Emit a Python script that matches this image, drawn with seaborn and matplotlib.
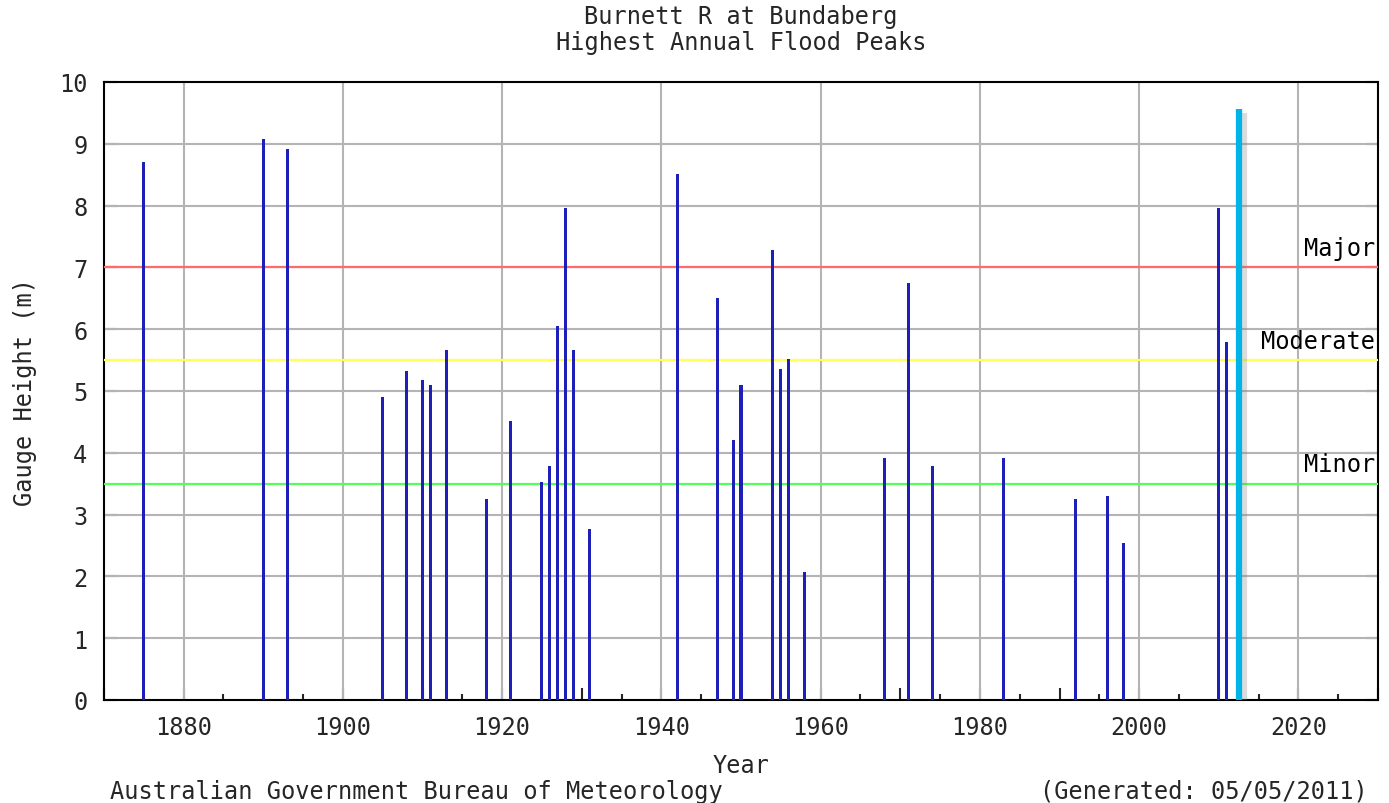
import matplotlib
matplotlib.use("Agg")
import matplotlib.pyplot as plt
import matplotlib.patheffects as pe
from matplotlib.ticker import MultipleLocator, FuncFormatter
import seaborn as sns
import pandas as pd

# ---- data ----
years = [1875, 1890, 1893, 1905, 1908, 1910, 1911, 1913, 1918, 1921,
         1925, 1926, 1927, 1928, 1929, 1931, 1942, 1947, 1949, 1950,
         1954, 1955, 1956, 1958, 1968, 1971, 1974, 1983, 1992, 1996,
         1998, 2010, 2011]
peaks = [8.70, 9.07, 8.92, 4.91, 5.32, 5.17, 5.10, 5.67, 3.26, 4.52,
         3.52, 3.79, 6.05, 7.96, 5.67, 2.76, 8.51, 6.51, 4.21, 5.09,
         7.28, 5.36, 5.52, 2.07, 3.91, 6.74, 3.79, 3.91, 3.26, 3.30,
         2.54, 7.96, 5.79]
current_year = [2012.5]
current_peak = [9.56]
level_names = ["Major", "Moderate", "Minor"]
level_values = [7.0, 5.5, 3.5]
level_colors = ["#ff6a6a", "#ffff55", "#55ff55"]
x_tick_labels = ["1880", "1900", "1920", "1940", "1960", "1980", "2000", "2020"]

sns.set_style("white")
plt.rcParams["font.family"] = ["DejaVu Sans Mono", "DejaVu Sans"]
FS = 17

fig = plt.figure(figsize=(13.89, 8.04), dpi=100)
W, H = 1389, 804
ax = fig.add_axes([104 / W, 1 - 701 / H, (1378 - 104) / W, (701 - 83) / H])

df = pd.DataFrame({"Year": years, "Height": peaks})
sns.barplot(data=df, x="Year", y="Height", native_scale=True, width=0.38,
            color="#1e1eb8", saturation=1, errorbar=None, ax=ax, zorder=4,
            linewidth=0)

# threshold lines
for name, val, col in zip(level_names, level_values, level_colors):
    ax.axhline(val, color=col, lw=1.6, zorder=3)
    ax.text(2029.6, val + 0.12, name, ha="right", va="bottom", fontsize=FS,
            color="black", zorder=6)

# current flood line with shadow
ax.vlines(current_year, 0, current_peak, colors="#00b4ea", lw=4.5, zorder=5,
          path_effects=[pe.SimpleLineShadow(offset=(4, -3), shadow_color="#888888", alpha=0.3),
                        pe.Normal()])

ax.set_xlim(1870, 2030)
ax.set_ylim(0, 10)

# gridlines
for x in [int(s) for s in x_tick_labels]:
    ax.axvline(x, color="#b4b4b4", lw=1.5, zorder=1)
for y in range(1, 10):
    ax.axhline(y, color="#b4b4b4", lw=1.5, zorder=1)

ax.xaxis.set_major_locator(MultipleLocator(10))
ax.xaxis.set_minor_locator(MultipleLocator(5))
ax.xaxis.set_major_formatter(FuncFormatter(
    lambda v, p: str(int(round(v))) if str(int(round(v))) in x_tick_labels else ""))
ax.yaxis.set_major_locator(MultipleLocator(1))
ax.tick_params(axis="x", which="major", direction="in", length=9, width=1.5,
               labelsize=FS, pad=11, bottom=True, top=False)
ax.tick_params(axis="x", which="minor", direction="in", length=4, width=1.5,
               bottom=True, top=False)
ax.tick_params(axis="y", which="major", direction="in", length=9, width=1.5,
               labelsize=FS, pad=12, left=True, right=True)
ax.set_xlabel("")
ax.set_ylabel("")
for s in ax.spines.values():
    s.set_visible(True)
    s.set_color("black")
    s.set_linewidth(1.5)

# texts
cx = (104 + 1378) / 2 / W
fig.text(cx, 1 - 17 / H, "Burnett R at Bundaberg", ha="center", va="center", fontsize=FS)
fig.text(cx, 1 - 43 / H, "Highest Annual Flood Peaks", ha="center", va="center", fontsize=FS)
fig.text(25 / W, 1 - 392 / H, "Gauge Height (m)", ha="center", va="center",
         rotation=90, fontsize=FS)
fig.text(cx, 1 - 766 / H, "Year", ha="center", va="center", fontsize=FS)
fig.text(110 / W, 1 - 792 / H, "Australian Government Bureau of Meteorology",
         ha="left", va="center", fontsize=FS)
fig.text(1368 / W, 1 - 792 / H, "(Generated: 05/05/2011)", ha="right", va="center",
         fontsize=FS)

fig.savefig("out.png", dpi=100)
